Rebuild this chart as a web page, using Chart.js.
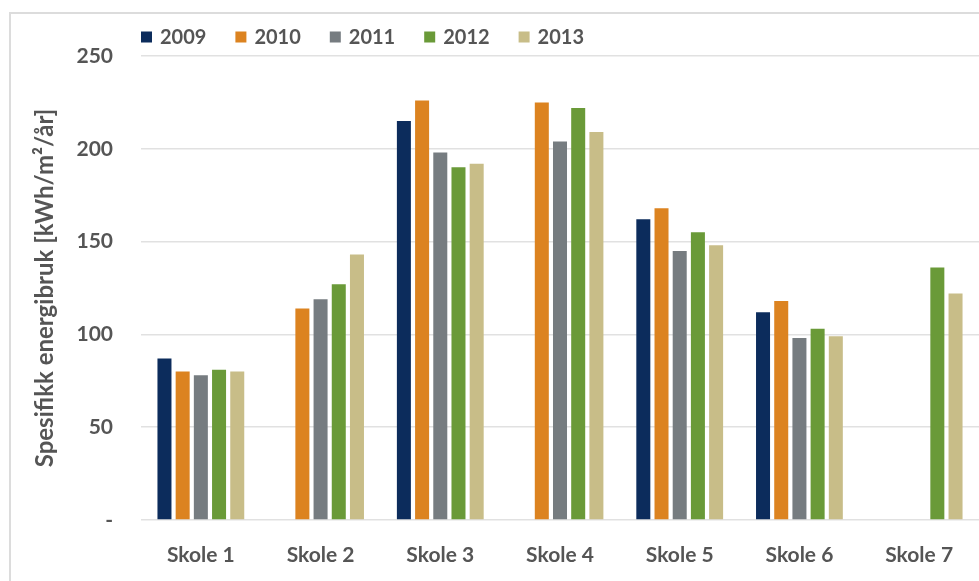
<!DOCTYPE html>
<html>
<head>
<meta charset="utf-8">
<script src="https://cdn.jsdelivr.net/npm/chart.js@4.4.1/dist/chart.umd.min.js"></script>
<style>
  html, body { margin: 0; padding: 0; background: #fff; }
  #wrap { position: relative; width: 979px; height: 581px; }
</style>
</head>
<body>
<div id="wrap"><canvas id="energiChart"></canvas></div>
<script>
const labels = ['Skole 1', 'Skole 2', 'Skole 3', 'Skole 4', 'Skole 5', 'Skole 6', 'Skole 7'];
const years = ['2009', '2010', '2011', '2012', '2013'];

const v2009 = [87, null, 215, null, 162, 112, null];
const v2010 = [80, 114, 226, 225, 168, 118, null];
const v2011 = [78, 119, 198, 204, 145, 98, null];
const v2012 = [81, 127, 190, 222, 155, 103, 136];
const v2013 = [80, 143, 192, 209, 148, 99, 122];

const yTicks = [0, 50, 100, 150, 200, 250];

const colors = ['#0c2c5c', '#dc8320', '#767c80', '#6a9a38', '#c8bd88'];
const textColor = '#555555';
const fontFamily = 'Lato, "Open Sans", sans-serif';

const series = [v2009, v2010, v2011, v2012, v2013];

const data = {
    labels: labels,
    datasets: years.map((y, i) => ({
        label: y,
        data: series[i],
        backgroundColor: colors[i],
        categoryPercentage: 0.76,
        barPercentage: 0.77,
    }))
};

// frame + legend drawn by hand so the legend lines up with the plot's left edge
const frameAndLegend = {
    id: 'frameAndLegend',
    beforeDraw(chart) {
        const c = chart.ctx;
        c.save();
        c.strokeStyle = '#dcdcdc';
        c.lineWidth = 2;
        c.beginPath();
        c.moveTo(10, 581);
        c.lineTo(10, 13);
        c.lineTo(979, 13);
        c.stroke();
        c.restore();
    },
    afterDraw(chart) {
        const c = chart.ctx;
        c.save();
        c.font = 'bold 20px ' + fontFamily;
        c.textBaseline = 'middle';
        let x = chart.chartArea.left;
        const y = 37;
        chart.data.datasets.forEach(ds => {
            c.fillStyle = ds.backgroundColor;
            c.fillRect(x, y - 5.5, 11, 11);
            x += 19;
            c.fillStyle = textColor;
            c.fillText(ds.label, x, y + 1);
            x += c.measureText(ds.label).width + 29;
        });
        c.restore();
    }
};

const chart = new Chart(document.getElementById('energiChart'), {
    type: 'bar',
    data: data,
    plugins: [frameAndLegend],
    options: {
        responsive: true,
        maintainAspectRatio: false,
        animation: false,
        layout: {
            padding: { left: 0, right: 0, top: 56, bottom: 0 }
        },
        plugins: {
            legend: { display: false },
            tooltip: { enabled: false }
        },
        scales: {
            x: {
                grid: { display: false },
                border: { display: false },
                ticks: {
                    color: textColor,
                    font: { family: fontFamily, size: 21, weight: 'bold' },
                    padding: 15,
                    maxRotation: 0
                },
                afterFit(scale) { scale.height = 61; }
            },
            y: {
                min: 0,
                max: 250,
                afterBuildTicks(scale) {
                    scale.ticks = yTicks.map(v => ({ value: v }));
                },
                grid: { color: '#e1e1e1', lineWidth: 1.5, drawTicks: false },
                border: { display: false },
                ticks: {
                    color: textColor,
                    font: { family: fontFamily, size: 21, weight: 'bold' },
                    padding: 28,
                    callback: function(value) {
                        return value === 0 ? '-' : value;
                    }
                },
                title: {
                    display: true,
                    text: 'Spesifikk energibruk [kWh/m²/år]',
                    color: textColor,
                    font: { family: fontFamily, size: 24, weight: 'bold' },
                    padding: { top: 31, bottom: 0 }
                },
                afterFit(scale) { scale.width = 141; }
            }
        }
    }
});
</script>
</body>
</html>
